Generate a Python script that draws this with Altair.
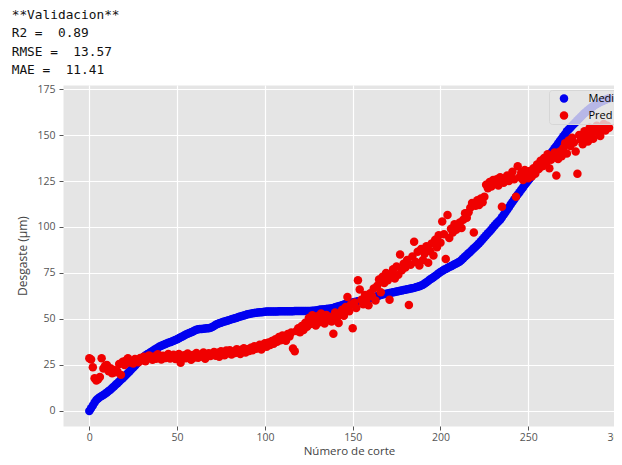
import altair as alt
import pandas as pd

# ---------------- data ----------------
cortes = list(range(297))

medido = [
    0.0, 1.5, 3.0, 4.6, 6.0, 6.8, 7.5, 8.1, 8.7, 9.3,
    10.0, 10.8, 11.5, 12.4, 13.3, 14.2, 15.1, 16.0, 16.9, 17.8,
    18.7, 19.6, 20.6, 21.6, 22.6, 23.6, 24.6, 25.6, 26.6, 27.6,
    28.6, 29.4, 30.1, 30.8, 31.4, 32.0, 32.6, 33.2, 33.8, 34.4,
    35.0, 35.4, 35.8, 36.2, 36.6, 37.0, 37.4, 37.8, 38.2, 38.6,
    39.0, 39.5, 40.0, 40.5, 41.0, 41.5, 42.0, 42.4, 42.8, 43.2,
    43.7, 44.1, 44.4, 44.5, 44.6, 44.7, 44.8, 44.9, 45.0, 45.2,
    45.6, 46.2, 46.8, 47.3, 47.7, 48.0, 48.3, 48.6, 48.9, 49.2,
    49.5, 49.8, 50.1, 50.4, 50.7, 51.0, 51.3, 51.6, 51.9, 52.2,
    52.5, 52.7, 52.9, 53.1, 53.3, 53.4, 53.5, 53.6, 53.7, 53.8,
    53.9, 54.0, 54.0, 54.0, 54.1, 54.1, 54.1, 54.1, 54.2, 54.2,
    54.2, 54.2, 54.2, 54.2, 54.2, 54.2, 54.2, 54.3, 54.3, 54.3,
    54.3, 54.3, 54.3, 54.3, 54.3, 54.3, 54.3, 54.4, 54.5, 54.6,
    54.8, 55.0, 55.1, 55.2, 55.3, 55.4, 55.5, 55.6, 55.8, 56.0,
    56.3, 56.6, 56.9, 57.2, 57.5, 57.8, 58.1, 58.4, 58.6, 58.8,
    59.0, 59.2, 59.4, 59.6, 59.8, 60.0, 60.2, 60.4, 60.6, 60.9,
    61.2, 61.5, 61.8, 62.1, 62.4, 62.7, 63.0, 63.3, 63.5, 63.7,
    63.9, 64.1, 64.3, 64.5, 64.7, 64.9, 65.1, 65.3, 65.5, 65.7,
    65.9, 66.1, 66.3, 66.5, 66.7, 66.9, 67.2, 67.5, 67.8, 68.2,
    68.6, 69.3, 70.0, 70.7, 71.4, 72.0, 72.7, 73.4, 74.1, 74.8,
    75.5, 76.1, 76.7, 77.2, 77.7, 78.2, 78.7, 79.2, 79.7, 80.2,
    80.7, 81.3, 82.1, 83.0, 83.9, 84.8, 85.7, 86.6, 87.5, 88.4,
    89.3, 90.2, 91.1, 92.2, 93.3, 94.4, 95.5, 96.6, 97.6, 98.7,
    99.8, 100.9, 102.0, 103.0, 104.0, 105.3, 106.6, 108.0, 109.4, 110.8,
    112.2, 113.6, 115.0, 116.3, 117.6, 118.9, 120.2, 121.5, 122.8, 124.1,
    125.3, 126.5, 127.7, 128.9, 130.1, 131.3, 132.5, 133.7, 134.8, 135.9,
    137.0, 138.1, 139.2, 140.3, 141.5, 142.8, 144.1, 145.4, 146.7, 148.0,
    149.3, 150.6, 152.0, 153.0, 154.0, 155.0, 156.0, 157.0, 158.0, 159.0,
    160.0, 160.9, 161.8, 162.7, 163.5, 164.3, 165.0, 165.7, 166.3, 166.9,
    167.4, 167.9, 168.4, 168.8, 169.2, 169.6, 170.0,
]

pred = [
    28.6, 28.0, 23.7, 17.8, 16.5, 17.2, 18.5, 28.6, 23.0, 24.5,
    25.0, 21.5, 23.2, 20.5, 22.3, 21.0, 21.4, 25.5, 19.6, 26.8,
    25.0, 27.5, 28.6, 26.3, 27.0, 25.8, 28.2, 27.2, 26.5, 28.8,
    27.6, 29.5, 27.0, 28.3, 30.2, 28.9, 27.8, 29.6, 28.4, 30.8,
    29.2, 27.9, 30.0, 28.7, 29.9, 31.0, 28.5, 29.8, 30.6, 28.2,
    29.4, 30.9, 26.2, 29.0, 30.3, 28.6, 31.2, 29.5, 27.8, 30.4,
    29.1, 31.5, 28.9, 30.2, 29.6, 31.8, 28.4, 30.7, 31.3, 29.8,
    30.9, 32.1, 30.0, 31.6, 29.4, 32.5, 31.0, 30.2, 32.8, 31.4,
    33.0, 30.7, 32.2, 31.5, 33.6, 32.0, 30.9, 33.2, 34.1, 31.8,
    33.5, 32.6, 34.4, 33.0, 35.2, 33.8, 34.6, 36.0, 33.4, 35.5,
    36.8, 34.9, 37.2, 35.8, 38.0, 36.5, 39.0, 37.6, 40.2, 38.4,
    41.0, 39.3, 38.2, 41.8, 40.5, 42.6, 34.0, 32.5, 43.5, 45.0,
    42.8, 46.2, 44.0, 48.0, 45.8, 50.5, 47.2, 52.0, 49.0, 46.5,
    51.5, 48.2, 53.0, 50.0, 47.5, 52.2, 49.4, 51.0, 48.6, 42.0,
    53.5, 50.8, 47.8, 52.6, 55.0, 51.8, 56.5, 62.0, 54.2, 57.8,
    45.0, 59.0, 56.0, 71.0, 66.0, 60.5, 58.0, 63.0, 61.0, 57.5,
    64.0, 62.5, 66.5, 60.0, 68.0, 71.5, 64.5, 73.0, 69.5, 75.0,
    71.0, 60.5, 74.5, 77.0, 72.0, 78.5, 74.0, 85.0, 76.5, 80.0,
    78.0, 82.0, 57.6, 79.5, 84.0, 92.0, 81.0, 86.5, 79.0, 88.0,
    82.0, 85.5, 89.5, 80.5, 87.0, 91.0, 84.5, 93.0, 89.0, 95.5,
    91.5, 103.0, 96.0, 82.6, 106.5, 94.0, 99.0, 97.0, 101.5, 98.5,
    100.0, 102.5, 99.5, 104.0, 107.5, 105.0, 108.0, 110.5, 113.0, 97.0,
    111.5, 114.5, 112.0, 115.5, 113.5, 116.5, 123.0, 121.0, 124.5, 122.0,
    125.5, 123.5, 126.0, 122.5, 127.0, 111.0, 124.0, 126.5, 128.0, 125.0,
    127.5, 130.0, 126.0, 116.5, 133.0, 127.0, 129.5, 125.5, 131.0, 128.0,
    126.5, 130.5, 127.5, 132.0, 129.0, 134.0, 131.5, 136.0, 133.0, 137.5,
    134.5, 139.5, 132.0, 136.5, 138.0, 140.5, 128.0, 137.0, 141.0, 138.5,
    143.0, 145.5, 140.0, 147.0, 144.0, 148.5, 146.0, 141.0, 129.0, 150.0,
    147.5, 145.0, 152.0, 149.0, 146.5, 154.0, 150.5, 148.0, 153.0, 155.0,
    151.0, 149.5, 153.5, 156.0, 152.5, 155.0, 154.0,
]

series_names = ["Medido", "Pred"]
series_colors = ["#0000f0", "#f00000"]
x_ticks = [0, 50, 100, 150, 200, 250, 300]
y_ticks = [0, 25, 50, 75, 100, 125, 150, 175]
header_title = "**Validacion**"
metric_names = ["R2", "RMSE", "MAE"]
metric_values = ["0.89", "13.57", "11.41"]

# ---------------- tables ----------------
n = len(cortes)
df = pd.DataFrame({
    "corte": cortes + cortes,
    "valor": medido + pred,
    "serie": [series_names[0]] * n + [series_names[1]] * n,
})

header = "\n".join(
    [header_title] + [f"{k} =\u00a0 {v}" for k, v in zip(metric_names, metric_values)]
)
header_df = pd.DataFrame({"t": [header]})

# ---------------- chart ----------------
points = alt.Chart(df).mark_circle(size=72, opacity=1).encode(
    x=alt.X(
        "corte:Q",
        scale=alt.Scale(domain=[-15, 310.8], nice=False, zero=False),
        axis=alt.Axis(values=x_ticks, title="Número de corte",
                      labelPadding=2, titlePadding=3, titleFontSize=11.5),
    ),
    y=alt.Y(
        "valor:Q",
        scale=alt.Scale(domain=[-8.2, 177.2], nice=False, zero=False),
        axis=alt.Axis(values=y_ticks, title="Desgaste (µm)",
                      labelPadding=4, titlePadding=7),
    ),
    color=alt.Color(
        "serie:N",
        scale=alt.Scale(domain=series_names, range=series_colors),
        legend=alt.Legend(
            title=None,
            orient="none",
            legendX=486,
            legendY=5,
            padding=3,
            symbolType="circle",
            symbolSize=72,
            symbolStrokeWidth=0,
            symbolOffset=6.5,
            labelOffset=19,
            rowPadding=5,
            labelFont="Open Sans",
            labelFontSize=11,
            labelColor="#000000",
            fillColor="rgba(229,229,229,0.8)",
            strokeColor="#d6d6d6",
            cornerRadius=3,
        ),
    ),
)

text = alt.Chart(header_df).mark_text(
    align="left",
    baseline="top",
    font="DejaVu Sans Mono",
    fontSize=12.8,
    lineBreak="\n",
    lineHeight=18.5,
    color="#111111",
).encode(
    text="t:N",
    x=alt.value(-51.3),
    y=alt.value(-76.3),
)

chart = alt.layer(points, text).properties(
    width=572,
    height=341,
    padding={"left": 55, "top": 77, "right": -21, "bottom": 31},
    autosize=alt.AutoSizeParams(type="none"),
).configure_view(
    fill="#E5E5E5",
    stroke="transparent",
).configure_axis(
    gridColor="#ffffff",
    gridWidth=1.2,
    domain=False,
    tickColor="#555555",
    tickSize=4,
    labelColor="#555555",
    labelFont="Open Sans",
    labelFontSize=10.5,
    titleFont="Open Sans",
    titleFontSize=12,
    titleFontWeight="normal",
    titleColor="#444444",
)

chart.save("out.html", embed_options={"renderer": "svg", "actions": False})
